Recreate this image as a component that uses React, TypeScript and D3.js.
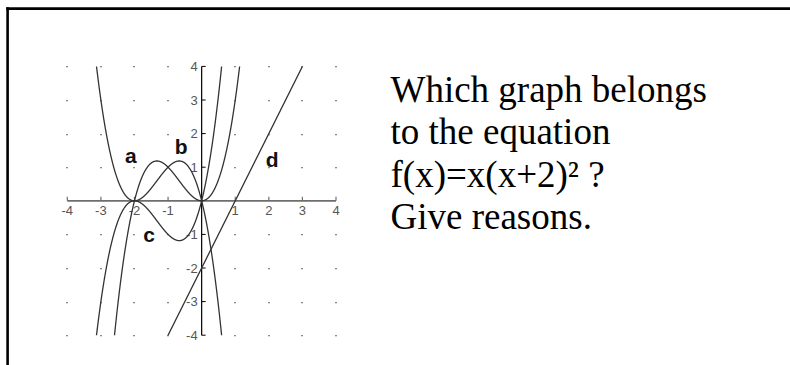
import React from "react";
import * as d3 from "d3";

// Each graph is a cubic given by its leading factor and its roots (with multiplicity)
const curveNames = ["a", "b", "c"];
const curveLeads = [1, -1, 1];
const curveRoots = [
  [0, 0, -2],
  [0, -2, -2],
  [0, -2, -2],
];
// Line d: slope and intercept
const lineSlope = 2;
const lineIntercept = -2;

const xTicks = [-4, -3, -2, -1, 1, 2, 3, 4];
const yTicks = [-4, -3, -2, -1, 1, 2, 3, 4];
const gridValues = [-4, -3, -2, -1, 0, 1, 2, 3, 4];

// Graph label positions (in graph coordinates)
const labelNames = ["a", "b", "c", "d"];
const labelX = [-2.28, -0.8, -1.74, 1.91];
const labelY = [1.12, 1.39, -1.22, 1.01];

const questionLines = [
  "Which graph belongs",
  "to the equation",
  "f(x)=x(x+2)² ?",
  "Give reasons.",
];

const W = 790;
const H = 365;

export default function App() {
  const x = d3.scaleLinear().domain([-4, 4]).range([67.3, 336]);
  const y = d3.scaleLinear().domain([-4, 4]).range([335.2, 66.4]);

  const samples = d3.range(-4, 4.0001, 0.005);
  const line = d3
    .line<[number, number]>()
    .x((d) => x(d[0]))
    .y((d) => y(Math.max(-6, Math.min(6, d[1]))));

  const cubicPaths = curveNames.map((_, i) =>
    line(
      samples.map((t) => [
        t,
        curveRoots[i].reduce((p, r) => p * (t - r), curveLeads[i]),
      ])
    )
  );
  const linePath = line(samples.map((t) => [t, lineSlope * t + lineIntercept]));

  const dots: [number, number][] = [];
  gridValues.forEach((gx) =>
    gridValues.forEach((gy) => {
      if (gx !== 0 && gy !== 0) dots.push([gx, gy]);
    })
  );

  const curveColor = "#333";

  return (
    <svg
      width={W}
      height={H}
      style={{ position: "absolute", left: 0, top: 0, background: "#fff" }}
    >
      <defs>
        <clipPath id="plotClip">
          <rect x={x(-4) - 1} y={y(4)} width={x(4) - x(-4) + 2} height={y(-4) - y(4)} />
        </clipPath>
      </defs>

      {/* frame */}
      <line x1={6.3} x2={W} y1={8.6} y2={8.6} stroke="#000" strokeWidth={2.6} />
      <line x1={7.6} x2={7.6} y1={7.3} y2={H} stroke="#000" strokeWidth={2.6} />

      {/* dotted grid */}
      {dots.map(([gx, gy], i) => (
        <rect
          key={i}
          x={Math.round(x(gx)) - 1}
          y={Math.round(y(gy))}
          width={2}
          height={1.3}
          fill="#8a8a8a"
        />
      ))}

      {/* x axis */}
      <line x1={x(-4)} x2={x(4)} y1={y(0)} y2={y(0)} stroke="#6e6e6e" strokeWidth={1.8} />
      {xTicks.map((t) => (
        <g key={t}>
          <line x1={x(t)} x2={x(t)} y1={y(0)} y2={y(0) - 4} stroke="#6e6e6e" strokeWidth={1.2} />
          <text
            x={x(t)}
            y={y(0) + 14}
            textAnchor="middle"
            fontFamily="Liberation Sans, Arial, sans-serif"
            fontSize={13}
            fill="#555"
          >
            {t}
          </text>
        </g>
      ))}

      {/* y axis */}
      <line x1={x(0)} x2={x(0)} y1={y(4)} y2={y(-4)} stroke="#000" strokeWidth={1.2} />
      {yTicks.map((t) => (
        <g key={t}>
          <line x1={x(0)} x2={x(0) + 4} y1={y(t)} y2={y(t)} stroke="#000" strokeWidth={1} />
          <text
            x={x(0) - 4}
            y={y(t) + 4.6}
            textAnchor="end"
            fontFamily="Liberation Sans, Arial, sans-serif"
            fontSize={13}
            fill="#555"
          >
            {t}
          </text>
        </g>
      ))}

      {/* graphs */}
      <g clipPath="url(#plotClip)" fill="none" stroke={curveColor} strokeWidth={1.3}>
        {cubicPaths.map((p, i) => (
          <path key={curveNames[i]} d={p || ""} />
        ))}
        <path d={linePath || ""} />
      </g>

      {/* graph labels */}
      {labelNames.map((n, i) => (
        <text
          key={n}
          x={x(labelX[i])}
          y={y(labelY[i])}
          fontFamily="Liberation Sans, Arial, sans-serif"
          fontWeight="bold"
          fontSize={21}
          fill="#111"
        >
          {n}
        </text>
      ))}

      {/* question */}
      {questionLines.map((s, i) => (
        <text
          key={i}
          x={390.5}
          y={101.5 + i * 42.6}
          fontFamily="Liberation Serif, Times New Roman, serif"
          fontSize={37}
          fill="#000"
        >
          {s}
        </text>
      ))}
    </svg>
  );
}
